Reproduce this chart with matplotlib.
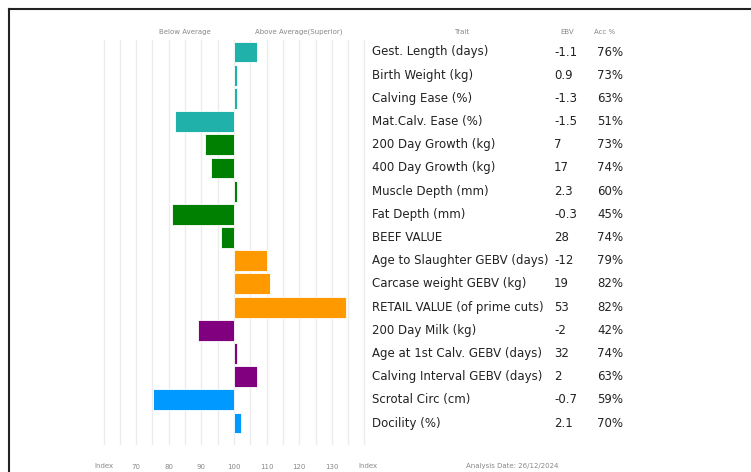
import matplotlib.pyplot as plt
from matplotlib.lines import Line2D

traits = ['Gest. Length (days)', 'Birth Weight (kg)', 'Calving Ease (%)',
          'Mat.Calv. Ease (%)', '200 Day Growth (kg)', '400 Day Growth (kg)',
          'Muscle Depth (mm)', 'Fat Depth (mm)', 'BEEF VALUE',
          'Age to Slaughter GEBV (days)', 'Carcase weight GEBV (kg)',
          'RETAIL VALUE (of prime cuts)', '200 Day Milk (kg)',
          'Age at 1st Calv. GEBV (days)', 'Calving Interval GEBV (days)',
          'Scrotal Circ (cm)', 'Docility (%)']
ebv = ['-1.1', '0.9', '-1.3', '-1.5', '7', '17', '2.3', '-0.3', '28',
       '-12', '19', '53', '-2', '32', '2', '-0.7', '2.1']
acc = ['76%', '73%', '63%', '51%', '73%', '74%', '60%', '45%', '74%',
       '79%', '82%', '82%', '42%', '74%', '63%', '59%', '70%']
index = [107, 101, 101, 82, 91, 93, 101, 81, 96,
         110, 111, 134.5, 89, 100.8, 107, 75, 102]
groups = (['calving'] * 4 + ['growth'] * 5 + ['carcase'] * 3
          + ['maternal'] * 3 + ['fertility'] * 2)
group_colors = {'calving': '#20b2aa', 'growth': '#008000', 'carcase': '#ff9900',
                'maternal': '#800080', 'fertility': '#0099ff'}
index_ticks = [70, 80, 90, 100, 110, 120, 130]

W, H = 751, 472
fig = plt.figure(figsize=(W / 100, H / 100), dpi=100)

# bar axes placed in pixel terms
left, right, top, bottom = 95, 370, 40, 445
ax = fig.add_axes([left / W, 1 - bottom / H, (right - left) / W, (bottom - top) / H])
px_per_unit = 3.26
ax.set_xlim(100 + (left - 234) / px_per_unit, 100 + (right - 234) / px_per_unit)
row_px = 23.19
ax.set_ylim((bottom - 52) / row_px, (top - 52) / row_px)

ys = list(range(len(traits)))
widths = [v - 100 for v in index]
colors = [group_colors[g] for g in groups]
ax.barh(ys, widths, left=100, height=0.9, color=colors,
        edgecolor='white', linewidth=0.6, zorder=3)

ax.set_xticks(index_ticks)
ax.set_xticks([t for t in range(60, 145, 5) if t not in index_ticks], minor=True)
ax.grid(which='both', axis='x', color='#ececec', linewidth=1, zorder=0)
ax.set_xticklabels([str(t) for t in index_ticks], fontsize=5, color='#888888')
ax.tick_params(axis='x', which='both', length=0, pad=14)
ax.set_yticks([])
for s in ax.spines.values():
    s.set_visible(False)


def fx(px):
    return px / W


def fy(py):
    return 1 - py / H


small = dict(fontsize=5, color='#888888', ha='center', va='center')
fig.text(fx(104), fy(466), 'Index', **small)
fig.text(fx(368), fy(466), 'Index', **small)
fig.text(fx(512), fy(466), 'Analysis Date: 26/12/2024', **small)

fig.text(fx(185), fy(32), 'Below Average', **small)
fig.text(fx(299), fy(32), 'Above Average(Superior)', **small)
fig.text(fx(462), fy(32), 'Trait', **small)
fig.text(fx(567), fy(32), 'EBV', **small)
fig.text(fx(605), fy(32), 'Acc %', **small)

for i in ys:
    py = 52 + i * row_px
    fig.text(fx(372), fy(py), traits[i], fontsize=8.5, color='#222222', va='center')
    fig.text(fx(554), fy(py), ebv[i], fontsize=8.5, color='#222222', va='center')
    fig.text(fx(597), fy(py), acc[i], fontsize=8.5, color='#222222', va='center')

# page frame (top and left edges)
fig.add_artist(Line2D([fx(9), 1], [fy(9), fy(9)], color='#222222', linewidth=1.5))
fig.add_artist(Line2D([fx(9), fx(9)], [fy(9), 0], color='#222222', linewidth=1.5))

fig.savefig('out.png', dpi=100)
